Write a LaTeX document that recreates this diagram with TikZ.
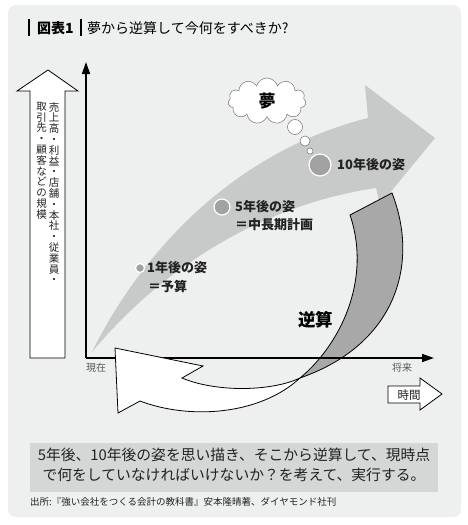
\documentclass[tikz,border=0pt]{standalone}
\usepackage{fontspec}
\setmainfont{Noto Sans CJK JP}
\usetikzlibrary{arrows.meta}
\usetikzlibrary{shapes.symbols}
\definecolor{bggray}{HTML}{EEEFEF}
\definecolor{flowgray}{HTML}{C8C9C9}
\definecolor{backgray}{HTML}{A8A8A8}
\definecolor{dotgray}{HTML}{A2A2A2}
\definecolor{boxgray}{HTML}{D5D6D6}
\definecolor{inkgray}{HTML}{222222}

\begin{document}
\begin{tikzpicture}[x=1pt,y=-1pt]
			\tikzset{axis/.style={line width=1.5pt, -{Triangle[length=12pt,width=8pt]}}}
			\tikzset{outline/.style={draw=black, line width=0.8pt, fill=white, line join=miter}}
			\tikzset{dot/.style={circle, fill=dotgray, draw=white, line width=1.2pt, inner sep=0pt}}
			\tikzset{stage/.style={anchor=west, inner sep=0pt, text=inkgray, font=\fontsize{13}{13}\selectfont\bfseries}}
			\tikzset{vtext/.style={anchor=north, inner sep=0pt, align=center, text=inkgray, font=\fontsize{10.5}{10.8}\selectfont}}
			\tikzset{small/.style={inner sep=0pt, text=black!65, font=\fontsize{10}{10}\selectfont}}
			\tikzset{bubble/.style={circle, fill=white, draw=black!55, line width=0.5pt, inner sep=0pt}}
			%frame
			\useasboundingbox[fill=white] (0,0) rectangle (468,525);
			\fill[bggray, rounded corners=8pt] (8,5) rectangle (461,517);
			%title
			\draw[line width=1.5pt] (29,19) -- (29,36);
			\draw[line width=1.5pt] (81,19) -- (81,36);
			\node[anchor=west, inner sep=0pt, font=\fontsize{14}{14}\selectfont\bfseries] (fig) at (37,28) {図表1};
			\node[anchor=west, inner sep=0pt, font=\fontsize{14}{14}\selectfont] (title) at (87,28) {夢から逆算して今何をすべきか?};
			%scale arrow
			\draw[outline] (48,70) -- (78,91) -- (65,91) -- (65,358) -- (30,358) -- (30,91) -- (17,91) -- cycle;
			\node[vtext] (scale1) at (54,102) {売\\上\\高\\・\\利\\益\\・\\店\\舗\\・\\本\\社\\・\\従\\業\\員\\・};
			\node[vtext] (scale2) at (41.5,102) {取\\引\\先\\・\\顧\\客\\な\\ど\\の\\規\\模};
			%growth arrow
			\fill[flowgray] (92,352) .. controls (145,245) and (240,150) .. (368,118)
				-- (365,85) -- (435,138) -- (380,205) -- (376,188)
				.. controls (260,205) and (160,270) .. (92,352) -- cycle;
			%backward arrow, dark side
			\coordinate (twist) at (300,378);
			\draw[outline, fill=backgray] (twist) .. controls (340,345) and (372,280) .. (350,215)
				-- (392,193) .. controls (420,265) and (395,345) .. (twist) -- cycle;
			%axes
			\coordinate (origin) at (86,358);
			\coordinate (ytop) at (86,62);
			\coordinate (xend) at (434,358);
			\draw[axis] (origin) -- (ytop);
			\draw[axis] (origin) -- (xend);
			\node[small] (now) at (96,368) {現在};
			\node[small] (future) at (402,368) {将来};
			%backward arrow, white side
			\draw[outline] (twist) .. controls (270,392) and (215,392) .. (182,378)
				-- (203,366) -- (115,348) -- (118,413) -- (140,401)
				.. controls (190,420) and (260,415) .. (twist) -- cycle;
			\node[inner sep=0pt, font=\fontsize{17.5}{17.5}\selectfont\bfseries] (back) at (315.5,320) {逆算};
			%time arrow
			\draw[outline] (388,386) -- (420,386) -- (420,378) -- (442,394) -- (420,410) -- (420,403) -- (388,403) -- cycle;
			\node[inner sep=0pt, text=inkgray, font=\fontsize{11.5}{11.5}\selectfont] (time) at (409,395) {時間};
			%stages
			\node[dot, minimum size=9pt] (y1) at (140,268) {};
			\node[dot, minimum size=16pt] (y5) at (222,207) {};
			\node[dot, minimum size=22pt] (y10) at (320,165) {};
			\node[stage] (y1a) at (147,268) {1年後の姿};
			\node[stage] (y1b) at (148,286) {＝予算};
			\node[stage] (y5a) at (235,207) {5年後の姿};
			\node[stage] (y5b) at (235,225) {＝中長期計画};
			\node[stage] (y10a) at (337,165) {10年後の姿};
			%dream
			\node[cloud, cloud puffs=11, aspect=1.8, fill=white, draw=black!55, line width=0.5pt,
				minimum width=78pt, minimum height=46pt, inner sep=0pt] (dream) at (267,101) {};
			\node[font=\fontsize{17}{17}\selectfont\bfseries] (dreamtext) at (dream) {夢};
			\node[bubble, minimum size=15pt] (b1) at (295,127) {};
			\node[bubble, minimum size=10pt] (b2) at (305,141) {};
			\node[bubble, minimum size=6pt] (b3) at (310,151) {};
			%summary
			\fill[boxgray] (30,443) rectangle (438,492);
			\node[inner sep=0pt, text=inkgray, font=\fontsize{14.8}{14.8}\selectfont] (sum1) at (234,455) {5年後、10年後の姿を思い描き、そこから逆算して、現時点};
			\node[inner sep=0pt, text=inkgray, font=\fontsize{14.8}{14.8}\selectfont] (sum2) at (234,475) {で何をしていなければいけないか？を考えて、実行する。};
			\node[anchor=west, inner sep=0pt, text=inkgray, font=\fontsize{9.5}{9.5}\selectfont] (source) at (30,502) {出所:『強い会社をつくる会計の教科書』安本隆晴著、ダイヤモンド社刊};
\end{tikzpicture}
\end{document}
